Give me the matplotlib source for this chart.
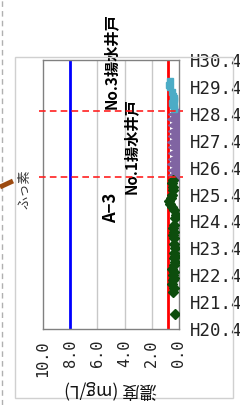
import pandas as pd
import matplotlib
matplotlib.use('Agg')
import matplotlib.pyplot as plt
from matplotlib.lines import Line2D
from matplotlib.patches import Rectangle

plt.rcParams['font.family'] = ['Noto Sans CJK JP', 'DejaVu Sans']

# data (dates -> fluoride concentration, mg/L)
green_dates = ['2008-10-15',
               '2009-08-15', '2009-10-15', '2009-12-01', '2010-01-20', '2010-03-01',
               '2010-04-10', '2010-05-20', '2010-06-25',
               '2010-08-20', '2010-10-01', '2010-11-15', '2010-12-20',
               '2011-02-01', '2011-04-01', '2011-06-01',
               '2011-08-20', '2011-10-01', '2011-11-15', '2012-01-01', '2012-02-15',
               '2012-05-15', '2012-07-01',
               '2012-09-01', '2012-10-10', '2012-11-20', '2013-01-01', '2013-02-15', '2013-03-20',
               '2013-06-01', '2013-07-15',
               '2013-09-01', '2013-10-20']
green_vals = [0.3,
              0.45, 0.4, 0.5, 0.45, 0.4,
              0.45, 0.4, 0.5,
              0.35, 0.3, 0.35, 0.3,
              0.35, 0.3, 0.4,
              0.4, 0.45, 0.4, 0.45, 0.35,
              0.3, 0.2,
              0.35, 0.5, 0.65, 0.75, 0.6, 0.5,
              0.45, 0.45,
              0.5, 0.45]

purple_dates = ['2013-12-15', '2014-03-01', '2014-05-15', '2014-08-01', '2014-10-15',
                '2015-01-01', '2015-03-15', '2015-06-01', '2015-08-15', '2015-11-01',
                '2016-01-15', '2016-04-01']
purple_vals = [0.4, 0.38, 0.42, 0.4, 0.38, 0.4, 0.42, 0.4, 0.38, 0.4, 0.42, 0.4]

cyan_dates = ['2016-06-01', '2016-07-01', '2016-08-01', '2016-09-01', '2016-10-01',
              '2016-11-01', '2016-12-01', '2017-01-15',
              '2017-04-01', '2017-05-01', '2017-06-15']
cyan_vals = [0.4, 0.35, 0.45, 0.5, 0.4, 0.35, 0.45, 0.55, 0.65, 0.7, 0.65]

standard = 0.8
upper_line = 8.0
well_dates = ['2013-12-01', '2016-05-15']   # No.1, No.3 pumping wells start

x_ticks = [10.0, 8.0, 6.0, 4.0, 2.0, 0.0]
years = list(range(2008, 2019))
y_labels = ['H%d.4' % (y - 1988) for y in years]

W, H = 240, 405
fig = plt.figure(figsize=(W / 100, H / 100), dpi=100)

# outer chart frame and bits of neighbouring drawing
fig.add_artist(Rectangle((15 / W, 1 - 398 / H), (233 - 15) / W, (398 - 57) / H,
                         transform=fig.transFigure, fill=False, ec='#d0d0d0', lw=1))
fig.add_artist(Line2D([1.5 / W, 1.5 / W], [0, 1], transform=fig.transFigure,
                      color='#b0b0b0', lw=1, ls=(0, (4, 3))))
fig.add_artist(Line2D([0, 13 / W], [1 - 187 / H, 1 - 181 / H], transform=fig.transFigure,
                      color='#9c4a10', lw=3.5, solid_capstyle='butt'))
fig.text(25 / W, 1 - 189 / H, 'ふっ素', rotation=90, ha='center', va='center',
         fontsize=9.5, color='#333333')

ax = fig.add_axes([43 / W, 1 - 329 / H, (179 - 43) / W, (329 - 60) / H])

gd = pd.to_datetime(green_dates)
pdts = pd.to_datetime(purple_dates)
cd = pd.to_datetime(cyan_dates)
wd = pd.to_datetime(well_dates)

for v in [2.0, 4.0, 6.0]:
    ax.axvline(v, color='#c8c8c8', lw=1, zorder=1)
ax.axvline(upper_line, color='#0000ff', lw=2, zorder=2)
ax.axvline(standard, color='#ff0000', lw=2, zorder=2)

ax.plot(purple_vals, pdts, ls='none', marker='<', ms=8, color='#8064a2', zorder=3)
ax.plot(cyan_vals, cd, ls='none', marker='s', ms=5, color='#4bacc6', zorder=3)
ax.plot(green_vals, gd, ls='none', marker='D', ms=4.8, color='#0d4d0d', zorder=4)

for d in wd:
    ax.plot([10.3, -0.3], [d, d], color='#ff2020', lw=1.2, ls=(0, (4, 2.5)),
            clip_on=False, zorder=5)

ax.set_xlim(10.0, 0.0)
ax.set_ylim(pd.Timestamp('2008-04-01'), pd.Timestamp('2018-04-01'))

ax.set_xticks(x_ticks)
ax.set_xticklabels(['%.1f' % v for v in x_ticks], rotation=90,
                   family='DejaVu Sans Mono', fontsize=11)
ax.set_yticks([pd.Timestamp('%d-04-01' % y) for y in years])
ax.set_yticklabels(y_labels, family='DejaVu Sans Mono', fontsize=12.5)
ax.yaxis.tick_right()
ax.tick_params(axis='both', length=0, colors='#222222')
ax.tick_params(axis='x', pad=8)
ax.tick_params(axis='y', pad=8)
for s in ax.spines.values():
    s.set_color('#808080')
    s.set_linewidth(1)

ax.text(5.0, pd.Timestamp('2016-06-10'), 'No.3揚水井戸', rotation=90, ha='center',
        va='bottom', fontsize=11, fontweight='bold', clip_on=False)
ax.text(3.55, pd.Timestamp('2013-04-01'), 'No.1揚水井戸', rotation=90, ha='center',
        va='bottom', fontsize=11, fontweight='bold', clip_on=False)
ax.text(5.0, pd.Timestamp('2012-10-01'), 'A−3', rotation=90, ha='center',
        va='center', fontsize=12, fontweight='bold')

fig.text(111 / W, 1 - 389 / H, '濃度 (mg/L)', rotation=180, ha='center', va='center',
         fontsize=12.5, color='#111111')

fig.savefig('out.png', dpi=100)
